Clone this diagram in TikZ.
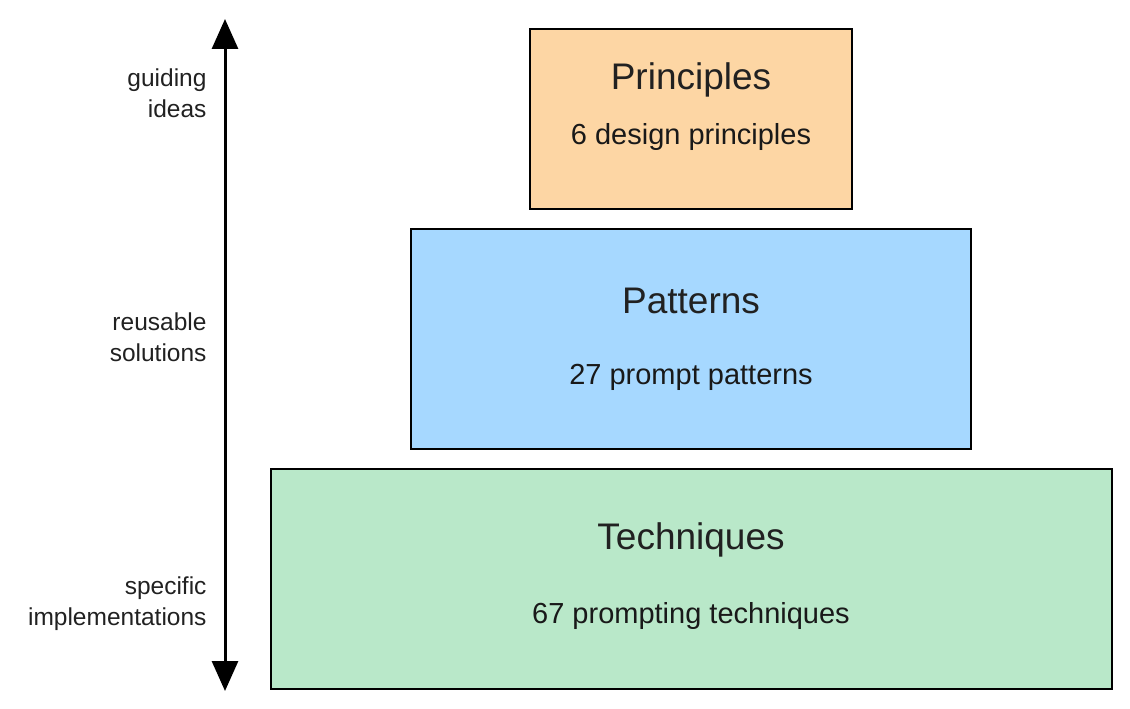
\documentclass[tikz,border=0pt]{standalone}
\usepackage{fontspec}
\setmainfont{Liberation Sans}
\usetikzlibrary{arrows.meta}
\begin{document}
\begin{tikzpicture}[x=1pt,y=-1pt,
  box/.style={draw=black,line width=2.5pt,inner sep=0pt},
  ttl/.style={text=black!87,font=\fontsize{37}{40}\selectfont},
  sub/.style={text=black!90,font=\fontsize{29}{32}\selectfont},
  side/.style={text=black!87,font=\fontsize{24.5}{31}\selectfont,align=right,anchor=east}]
\useasboundingbox (0,0) rectangle (1130,709);
\filldraw[box,fill={rgb,255:red,253;green,214;blue,164}] (530,29) rectangle (852,209);
\filldraw[box,fill={rgb,255:red,166;green,216;blue,255}] (411,229) rectangle (971,449);
\filldraw[box,fill={rgb,255:red,185;green,232;blue,201}] (271,469) rectangle (1112,689);
\node[ttl] (t1) at (691,80) {Principles};
\node[sub] (s1) at (691,137) {6 design principles};
\node[ttl] (t2) at (691,301) {Patterns};
\node[sub] (s2) at (691,377) {27 prompt patterns};
\node[ttl] (t3) at (691,540) {Techniques};
\node[sub] (s3) at (691,616) {67 prompting techniques};
\coordinate (top) at (225,19);
\coordinate (bot) at (225,691);
\draw[line width=3pt,{Triangle[length=30pt,width=26pt]}-{Triangle[length=30pt,width=26pt]}] (top) -- (bot);
\node[side] (l1) at (210,93) {guiding\\ideas};
\node[side] (l2) at (210,337) {reusable\\solutions};
\node[side] (l3) at (210,604) {specific\\implementations};
\end{tikzpicture}
\end{document}
